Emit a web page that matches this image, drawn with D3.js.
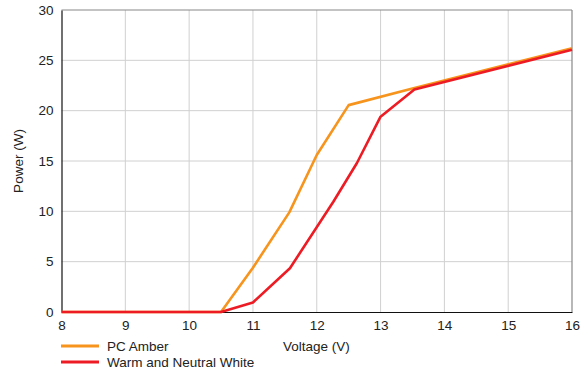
<!DOCTYPE html>
<html><head><meta charset="utf-8">
<script src="https://cdn.jsdelivr.net/npm/d3@7"></script>
<style>body{margin:0;background:#fff;} text{font-family:"Liberation Sans",Arial,sans-serif;fill:#222;}</style>
</head><body><svg id="c" width="588" height="374"></svg>
<script>
const amberV = [8, 10.5, 11, 11.57, 12, 12.5, 13.5, 16];
const amberP = [0, 0, 4.4, 9.9, 15.6, 20.55, 22.2, 26.2];
const whiteV = [8, 10.5, 11, 11.58, 12.26, 12.63, 13, 13.53, 16];
const whiteP = [0, 0, 0.95, 4.35, 10.95, 14.8, 19.4, 22.1, 26.05];
const xTicks = [8, 9, 10, 11, 12, 13, 14, 15, 16];
const yTicks = [0, 5, 10, 15, 20, 25, 30];
const seriesNames = ["PC Amber", "Warm and Neutral White"];
const colors = ["#F7941D", "#ED1C24"];

const FS = 13.5;
const svg = d3.select("#c");
const L = 61.5, R = 572, T = 10, B = 312;
const x = d3.scaleLinear().domain([8, 16]).range([L, R]);
const y = d3.scaleLinear().domain([0, 30]).range([B, T]);

// grid
svg.append("g").selectAll("line").data(xTicks.slice(1, -1)).join("line")
  .attr("x1", d => x(d)).attr("x2", d => x(d)).attr("y1", T).attr("y2", B)
  .attr("stroke", "#d0d0d0").attr("stroke-width", 1);
svg.append("g").selectAll("line").data(yTicks.slice(1, -1)).join("line")
  .attr("x1", L).attr("x2", R).attr("y1", d => y(d)).attr("y2", d => y(d))
  .attr("stroke", "#d0d0d0").attr("stroke-width", 1);
// frame
svg.append("line").attr("x1", L).attr("x2", R).attr("y1", T).attr("y2", T).attr("stroke", "#888").attr("stroke-width", 1.2);
svg.append("line").attr("x1", R).attr("x2", R).attr("y1", T).attr("y2", B).attr("stroke", "#888").attr("stroke-width", 1.2);

// axes
const xa = svg.append("g").attr("transform", `translate(0,${B})`)
  .call(d3.axisBottom(x).tickValues(xTicks).tickSize(0).tickPadding(8).tickFormat(d3.format("d")));
xa.select(".domain").attr("stroke", "#111").attr("stroke-width", 1.2);
xa.selectAll("text").attr("font-size", FS).style("font-family", "Liberation Sans, Arial, sans-serif").attr("fill", "#222");
const ya = svg.append("g").attr("transform", `translate(${L},0)`)
  .call(d3.axisLeft(y).tickValues(yTicks).tickSize(0).tickPadding(8).tickFormat(d3.format("d")));
ya.select(".domain").attr("stroke", "#111").attr("stroke-width", 1.2);
ya.selectAll("text").attr("font-size", FS).style("font-family", "Liberation Sans, Arial, sans-serif").attr("fill", "#222");

// lines
const line = d3.line().x(d => x(d[0])).y(d => y(d[1]));
const data = [d3.zip(amberV, amberP), d3.zip(whiteV, whiteP)];
svg.append("path").datum(data[0]).attr("d", line).attr("fill", "none").attr("stroke", colors[0]).attr("stroke-width", 2.6).attr("stroke-linejoin", "round");
svg.append("path").datum(data[1]).attr("d", line).attr("fill", "none").attr("stroke", colors[1]).attr("stroke-width", 2.6).attr("stroke-linejoin", "round");

// axis titles
svg.append("text").attr("x", 283).attr("y", 351).attr("font-size", FS).text("Voltage (V)");
svg.append("text").attr("transform", "translate(23,161) rotate(-90)").attr("text-anchor", "middle").attr("font-size", FS).text("Power (W)");

// legend
seriesNames.forEach((n, i) => {
  const yy = 346 + i * 16;
  svg.append("line").attr("x1", 61).attr("x2", 99).attr("y1", yy).attr("y2", yy).attr("stroke", colors[i]).attr("stroke-width", 3);
  svg.append("text").attr("x", 107).attr("y", yy + 4.5).attr("font-size", FS).text(n);
});
</script></body></html>
